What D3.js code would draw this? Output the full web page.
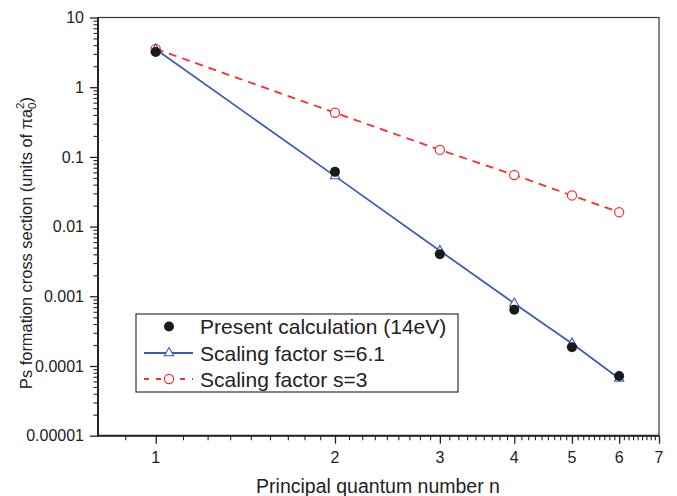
<!DOCTYPE html>
<html>
<head>
<meta charset="utf-8">
<script src="https://cdn.jsdelivr.net/npm/d3@7"></script>
<style>
  body { margin: 0; background: #fff; }
  svg { font-family: 'Liberation Sans', Arial, sans-serif; }
  .ticklabel { font-size: 16px; fill: #222; }
  .axistitle { font-size: 19.5px; fill: #222; }
  .ytitle { font-size: 16.4px; fill: #222; }
  .legendtext { font-size: 21px; fill: #222; }
</style>
</head>
<body>
<div id="chart"></div>
<script>
'use strict';
// Values
const nValues = [1, 2, 3, 4, 5, 6]
const presentCalc = [3.2, 0.061, 0.0040, 0.00064, 0.000186, 0.000072] // black dots
const scaling61 = [3.5, 0.053, 0.0045, 0.00079, 0.00021, 0.000066] // blue triangles
const scaling3 = [3.55, 0.43, 0.126, 0.055, 0.028, 0.0161] // red circles
const xTicks = [1, 2, 3, 4, 5, 6, 7]
const yTicks = [10, 1, 0.1, 0.01, 0.001, 0.0001, 0.00001]
const yTickLabels = ['10', '1', '0.1', '0.01', '0.001', '0.0001', '0.00001']
const legendLabels = ['Present calculation (14eV)', 'Scaling factor s=6.1', 'Scaling factor s=3']

const blue = '#3d5cb8'
const red = '#ff2a2a'
const W = 677, H = 496
const plot = { left: 98, right: 659, top: 17.5, bottom: 435.7 }

const svg = d3.select('#chart').append('svg')
    .attr('width', W)
    .attr('height', H)

const x = d3.scaleLog()
    .domain([0.8, 7])
    .range([plot.left, plot.right])
const y = d3.scaleLog()
    .domain([0.00001, 10])
    .range([plot.bottom, plot.top])

// minor tick positions: x splits each unit into 9 (Origin style), y uses 2..9 per decade
const xMinor = d3.range(0, 7, 1).flatMap(k => d3.range(1, 9).map(j => k + j / 9)).filter(v => v > 0.8 && v < 7)
const yMinor = d3.range(-5, 1).flatMap(e => d3.range(2, 10).map(m => m * Math.pow(10, e)))

svg.append('g') // x axis with major ticks
    .attr('transform', `translate(0, ${plot.bottom})`)
    .call(d3.axisBottom(x).tickValues(xTicks).tickSize(8).tickFormat(''))
    .call(g => g.select('.domain').remove())
    .call(g => g.selectAll('line').attr('stroke', '#222').attr('stroke-width', 1.3))
svg.append('g') // x axis minor ticks
    .attr('transform', `translate(0, ${plot.bottom})`)
    .call(d3.axisBottom(x).tickValues(xMinor).tickSize(4.5).tickFormat(''))
    .call(g => g.select('.domain').remove())
    .call(g => g.selectAll('line').attr('stroke', '#222').attr('stroke-width', 1.1))
svg.append('g').selectAll('text') // x tick labels
    .data(xTicks).enter().append('text')
    .attr('class', 'ticklabel')
    .attr('text-anchor', 'middle')
    .attr('x', d => x(d))
    .attr('y', 463)
    .text(d => d)

svg.append('g') // y axis with major ticks
    .attr('transform', `translate(${plot.left}, 0)`)
    .call(d3.axisLeft(y).tickValues(yTicks).tickSize(8).tickFormat(''))
    .call(g => g.select('.domain').remove())
    .call(g => g.selectAll('line').attr('stroke', '#222').attr('stroke-width', 1.3))
svg.append('g') // y axis minor ticks
    .attr('transform', `translate(${plot.left}, 0)`)
    .call(d3.axisLeft(y).tickValues(yMinor).tickSize(4.5).tickFormat(''))
    .call(g => g.select('.domain').remove())
    .call(g => g.selectAll('line').attr('stroke', '#222').attr('stroke-width', 1.1))
svg.append('g').selectAll('text') // y tick labels
    .data(yTicks).enter().append('text')
    .attr('class', 'ticklabel')
    .attr('text-anchor', 'end')
    .attr('x', 84)
    .attr('y', d => y(d))
    .attr('dy', '0.36em')
    .text((d, i) => yTickLabels[i])

svg.append('rect') // plot frame, top and right thin
    .attr('x', plot.left)
    .attr('y', plot.top)
    .attr('width', plot.right - plot.left)
    .attr('height', plot.bottom - plot.top)
    .attr('fill', 'none')
    .attr('stroke', '#333')
    .attr('stroke-width', 1.2)
svg.append('path') // heavier left and bottom axis lines
    .attr('d', `M ${plot.left} ${plot.top} L ${plot.left} ${plot.bottom} L ${plot.right} ${plot.bottom}`)
    .attr('fill', 'none')
    .attr('stroke', '#222')
    .attr('stroke-width', 2)

const line = d3.line()
    .x(d => x(d.n))
    .y(d => y(d.v))
const redData = nValues.map((n, i) => ({ n: n, v: scaling3[i] }))
const blueData = nValues.map((n, i) => ({ n: n, v: scaling61[i] }))
const blackData = nValues.map((n, i) => ({ n: n, v: presentCalc[i] }))

svg.append('path').datum(redData) // s=3 dashed line
    .attr('fill', 'none')
    .attr('stroke', red)
    .attr('stroke-width', 1.8)
    .attr('stroke-dasharray', '8,6')
    .attr('d', line)
svg.append('g').selectAll('circle') // s=3 open circles
    .data(redData).enter().append('circle')
    .attr('cx', d => x(d.n))
    .attr('cy', d => y(d.v))
    .attr('r', 4.6)
    .attr('fill', '#fff')
    .attr('stroke', red)
    .attr('stroke-width', 1.2)

svg.append('path').datum(blueData) // s=6.1 solid line
    .attr('fill', 'none')
    .attr('stroke', blue)
    .attr('stroke-width', 1.8)
    .attr('d', line)
const tri = d3.symbol().type(d3.symbolTriangle).size(38)
svg.append('g').selectAll('path') // s=6.1 open triangles
    .data(blueData).enter().append('path')
    .attr('transform', d => `translate(${x(d.n)}, ${y(d.v)})`)
    .attr('d', tri)
    .attr('fill', '#fff')
    .attr('stroke', blue)
    .attr('stroke-width', 1.1)

svg.append('g').selectAll('circle') // present calculation
    .data(blackData).enter().append('circle')
    .attr('cx', d => x(d.n))
    .attr('cy', d => y(d.v))
    .attr('r', 5)
    .attr('fill', '#1a1a1a')

svg.append('text') // x axis title
    .attr('class', 'axistitle')
    .attr('text-anchor', 'middle')
    .attr('x', 378)
    .attr('y', 493)
    .text('Principal quantum number n')

const yTitle = svg.append('text') // y axis title
    .attr('class', 'ytitle')
    .attr('transform', 'rotate(-90)')
    .attr('text-anchor', 'middle')
    .attr('x', -243)
    .attr('y', 32)
yTitle.append('tspan').text('Ps formation cross section (units of πa')
yTitle.append('tspan').attr('dy', 4).style('font-size', '11.5px').text('0')
yTitle.append('tspan').attr('dx', -6.4).attr('dy', -12.5).style('font-size', '11.5px').text('2')
yTitle.append('tspan').attr('dy', 8.5).text(')')

// legend
const legend = svg.append('g')
legend.append('rect')
    .attr('x', 136)
    .attr('y', 314)
    .attr('width', 322)
    .attr('height', 78)
    .attr('fill', '#fff')
    .attr('stroke', '#333')
    .attr('stroke-width', 1.2)
const rowY = [326.5, 353, 379]
legend.append('circle')
    .attr('cx', 169).attr('cy', rowY[0]).attr('r', 5).attr('fill', '#1a1a1a')
legend.append('line')
    .attr('x1', 144).attr('x2', 193).attr('y1', rowY[1]).attr('y2', rowY[1])
    .attr('stroke', blue).attr('stroke-width', 1.8)
legend.append('path')
    .attr('transform', `translate(169, ${rowY[1]})`)
    .attr('d', tri)
    .attr('fill', '#fff').attr('stroke', blue).attr('stroke-width', 1.1)
legend.append('line')
    .attr('x1', 144).attr('x2', 193).attr('y1', rowY[2]).attr('y2', rowY[2])
    .attr('stroke', red).attr('stroke-width', 1.8).attr('stroke-dasharray', '5,7')
legend.append('circle')
    .attr('cx', 169).attr('cy', rowY[2]).attr('r', 4.6)
    .attr('fill', '#fff').attr('stroke', red).attr('stroke-width', 1.2)
legend.selectAll('text.legendtext')
    .data(legendLabels).enter().append('text')
    .attr('class', 'legendtext')
    .attr('x', 200)
    .attr('y', (d, i) => rowY[i])
    .attr('dy', '0.36em')
    .text(d => d)
</script>
</body>
</html>
